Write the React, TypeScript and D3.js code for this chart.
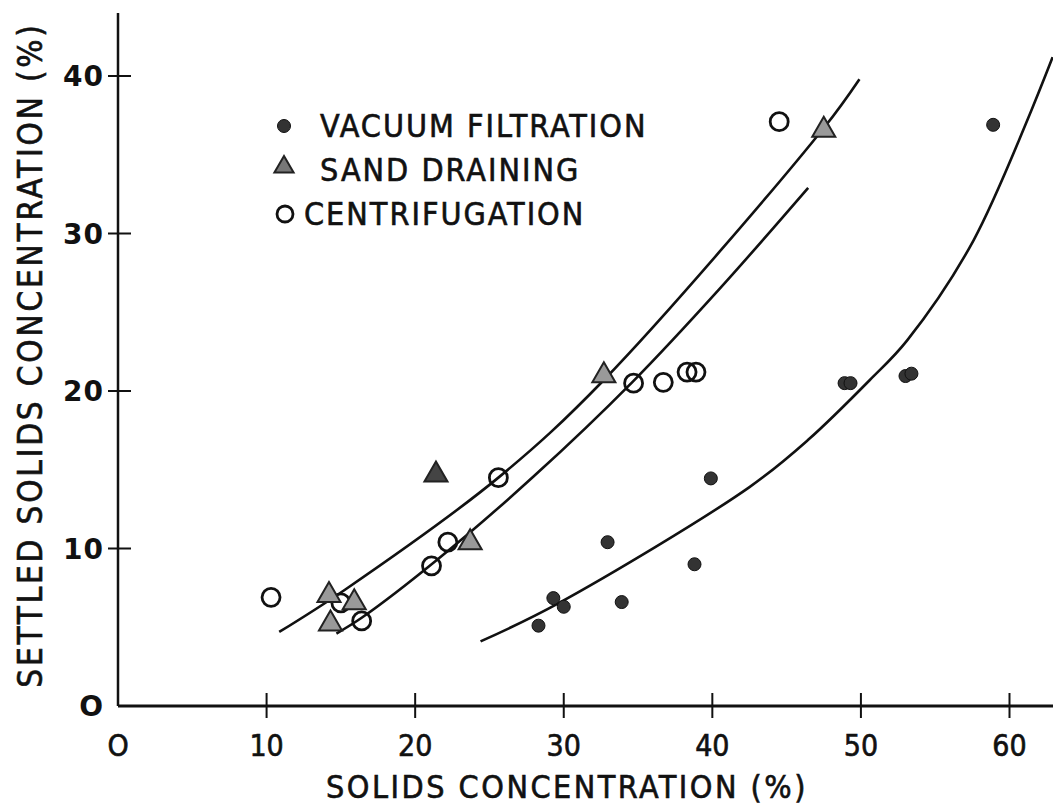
import React, { useEffect, useRef } from 'react';
import * as d3 from 'd3';

// [solids %, settled solids %]
const vacuumFiltration: [number, number][] = [
  [28.3, 5.1], [29.3, 6.85], [30.0, 6.3], [32.95, 10.4], [33.9, 6.6],
  [38.8, 9.0], [39.9, 14.45], [48.9, 20.5], [49.3, 20.5], [53.0, 20.95],
  [53.4, 21.1], [58.9, 36.9],
];
const sandDraining: [number, number][] = [
  [14.2, 7.15], [14.3, 5.35], [15.9, 6.7], [21.4, 14.8], [23.7, 10.5],
  [32.7, 21.1], [47.5, 36.7],
];
const centrifugation: [number, number][] = [
  [10.3, 6.9], [15.0, 6.55], [16.4, 5.4], [21.1, 8.9], [22.2, 10.4],
  [25.6, 14.5], [34.7, 20.5], [36.7, 20.55], [38.3, 21.2], [38.9, 21.2],
  [44.5, 37.1],
];

// hand-drawn fitted curves
const upperCurve: [number, number][] = [
  [10.85, 4.7], [15.3, 7.4], [25.6, 14.5], [32.7, 20.7],
  [47.5, 36.7], [49.9, 39.8],
];
const middleCurve: [number, number][] = [
  [14.7, 4.6], [16.4, 5.6], [21.5, 9.3], [28, 14.6], [34.65, 20.6],
  [40.5, 26.5], [46.45, 32.9],
];
const lowerCurve: [number, number][] = [
  [24.4, 4.1], [29.6, 6.5], [42.5, 13.9], [46.45, 16.9],
  [50.6, 20.7], [53.1, 23.2], [57.6, 29.6], [62.9, 41.2],
];

const xTicks = [0, 10, 20, 30, 40, 50, 60];
const yTicks = [0, 10, 20, 30, 40];

const legendItems = ['VACUUM  FILTRATION', 'SAND  DRAINING', 'CENTRIFUGATION'];

const W = 1053;
const H = 812;
const narrow = '"DejaVu Sans Condensed", "Liberation Sans Narrow", "DejaVu Sans", sans-serif';
const ink = '#111';

const App: React.FC = () => {
  const svgRef = useRef<SVGSVGElement>(null);

  useEffect(() => {
    const svg = d3.select(svgRef.current);
    svg.selectAll('*').remove();

    const x = d3.scaleLinear().domain([0, 60]).range([118, 1009.5]);
    const y = d3.scaleLinear().domain([0, 40]).range([706, 76]);

    svg.append('rect').attr('width', W).attr('height', H).attr('fill', '#fff');

    // axes
    svg.append('line')
      .attr('x1', x(0)).attr('x2', W)
      .attr('y1', y(0)).attr('y2', y(0))
      .attr('stroke', ink).attr('stroke-width', 2.8);
    svg.append('line')
      .attr('x1', x(0)).attr('x2', x(0))
      .attr('y1', y(0)).attr('y2', 13)
      .attr('stroke', ink).attr('stroke-width', 2.5);

    xTicks.filter(t => t > 0).forEach(t => {
      svg.append('line')
        .attr('x1', x(t)).attr('x2', x(t))
        .attr('y1', y(0) - 13).attr('y2', y(0) + 12)
        .attr('stroke', ink).attr('stroke-width', 2);
    });
    yTicks.filter(t => t > 0).forEach(t => {
      svg.append('line')
        .attr('x1', x(0) - 10).attr('x2', x(0) + 13)
        .attr('y1', y(t)).attr('y2', y(t))
        .attr('stroke', ink).attr('stroke-width', 2);
    });

    // tick labels
    svg.append('g').selectAll('text')
      .data(xTicks)
      .enter().append('text')
      .attr('x', d => x(d))
      .attr('y', 756)
      .attr('text-anchor', 'middle')
      .attr('font-family', narrow)
      .attr('font-size', 30)
      .attr('fill', ink)
      .attr('stroke', ink)
      .attr('stroke-width', 0.6)
      .text(d => d === 0 ? 'O' : String(d));

    svg.append('g').selectAll('text')
      .data(yTicks)
      .enter().append('text')
      .attr('x', 104)
      .attr('y', d => y(d) + 10)
      .attr('text-anchor', 'end')
      .attr('font-family', '"DejaVu Sans", sans-serif')
      .attr('font-weight', 'bold')
      .attr('font-size', 28)
      .attr('letter-spacing', 1)
      .attr('fill', ink)
      .text(d => d === 0 ? 'O' : String(d));

    // axis titles
    svg.append('text')
      .attr('x', 567)
      .attr('y', 798)
      .attr('text-anchor', 'middle')
      .attr('font-family', narrow)
      .attr('font-size', 32)
      .attr('letter-spacing', 2.5)
      .attr('fill', ink)
      .attr('stroke', ink)
      .attr('stroke-width', 0.6)
      .text('SOLIDS  CONCENTRATION  (%)');

    svg.append('text')
      .attr('transform', 'translate(42,355) rotate(-90)')
      .attr('text-anchor', 'middle')
      .attr('font-family', narrow)
      .attr('font-size', 33)
      .attr('letter-spacing', 2.8)
      .attr('fill', ink)
      .attr('stroke', ink)
      .attr('stroke-width', 0.6)
      .text('SETTLED  SOLIDS  CONCENTRATION  (%)');

    // curves
    const line = d3.line<[number, number]>()
      .x(d => x(d[0]))
      .y(d => y(d[1]))
      .curve(d3.curveCatmullRom.alpha(0.5));

    [upperCurve, middleCurve, lowerCurve].forEach(c => {
      svg.append('path')
        .attr('d', line(c))
        .attr('fill', 'none')
        .attr('stroke', ink)
        .attr('stroke-width', 2.6);
    });

    const tri = d3.symbol().type(d3.symbolTriangle).size(230);

    // points
    svg.append('g').selectAll('circle')
      .data(centrifugation)
      .enter().append('circle')
      .attr('cx', d => x(d[0]))
      .attr('cy', d => y(d[1]))
      .attr('r', 9)
      .attr('fill', 'none')
      .attr('stroke', ink)
      .attr('stroke-width', 2.8);

    svg.append('g').selectAll('path')
      .data(sandDraining)
      .enter().append('path')
      .attr('d', tri()!)
      .attr('transform', d => `translate(${x(d[0])},${y(d[1]) + 2})`)
      .attr('fill', (_d, i) => i === 3 ? '#444' : '#999')
      .attr('stroke', '#222')
      .attr('stroke-width', 2);

    svg.append('g').selectAll('circle')
      .data(vacuumFiltration)
      .enter().append('circle')
      .attr('cx', d => x(d[0]))
      .attr('cy', d => y(d[1]))
      .attr('r', 6.5)
      .attr('fill', '#333')
      .attr('stroke', ink)
      .attr('stroke-width', 1);

    // legend
    const lg = svg.append('g');
    lg.append('circle').attr('cx', 284).attr('cy', 126).attr('r', 6.5)
      .attr('fill', '#333').attr('stroke', ink);
    lg.append('path').attr('d', d3.symbol().type(d3.symbolTriangle).size(160)()!)
      .attr('transform', 'translate(284,167)')
      .attr('fill', '#777').attr('stroke', '#222').attr('stroke-width', 2);
    lg.append('circle').attr('cx', 285).attr('cy', 214).attr('r', 8)
      .attr('fill', 'none').attr('stroke', ink).attr('stroke-width', 2.8);

    lg.selectAll('text')
      .data(legendItems)
      .enter().append('text')
      .attr('x', (_d, i) => i === 2 ? 304 : 320)
      .attr('y', (_d, i) => 137 + i * 44)
      .attr('font-family', narrow)
      .attr('font-size', 32)
      .attr('letter-spacing', 2)
      .attr('fill', ink)
      .attr('stroke', ink)
      .attr('stroke-width', 0.6)
      .text(d => d);
  }, []);

  return (
    <div style={{ position: 'absolute', left: 0, top: 0, width: W, height: H }}>
      <svg ref={svgRef} width={W} height={H}></svg>
    </div>
  );
};

export default App;
